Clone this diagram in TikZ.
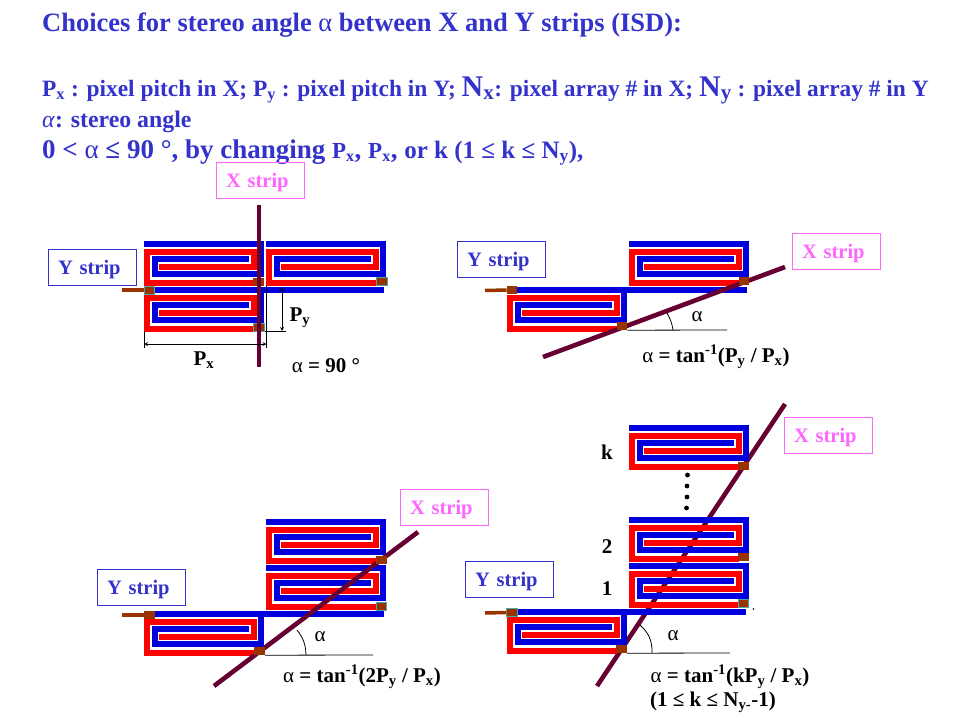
\documentclass[tikz,border=0pt]{standalone}
\usepackage{fontspec}
\setmainfont{Liberation Serif}
\usetikzlibrary{arrows,positioning}
\definecolor{txtblue}{HTML}{3333CC}
\definecolor{wireblue}{HTML}{0000DD}
\definecolor{padbrown}{HTML}{993300}
\definecolor{padedge}{HTML}{44AAAA}
\definecolor{stripmaroon}{HTML}{660033}
\definecolor{boxpink}{HTML}{FF66FF}
\tikzstyle{bluewire} = [line width=6pt,wireblue,miter limit=10]
\tikzstyle{redwire} = [line width=6pt,red,miter limit=10]
\tikzstyle{xstrip} = [line width=4.6pt,stripmaroon]
\tikzstyle{feed} = [line width=3.5pt,padbrown]
\tikzstyle{pad} = [fill=padbrown,minimum width=10.5pt,minimum height=8pt,inner sep=0pt]
\tikzstyle{padt} = [pad,draw=padedge,line width=0.6pt]
\tikzstyle{ybox} = [draw=txtblue,text=txtblue,line width=0.8pt,minimum width=88pt,minimum height=36pt,inner sep=0pt,text width=68pt,align=left,text depth=0pt,font=\fontsize{20.5}{22}\selectfont\bfseries]
\tikzstyle{xbox} = [ybox,draw=boxpink,text=boxpink]
\tikzstyle{lbl} = [inner sep=0pt,font=\fontsize{21}{23}\selectfont\bfseries]
\tikzstyle{head} = [inner sep=0pt,anchor=base west,text=txtblue,font=\bfseries]
\tikzstyle{arrow} = [line width=0.8pt,<->,>=stealth]
\tikzstyle{thin line} = [line width=0.8pt]
\tikzset{cell/.pic={
	\draw [bluewire] (0,2.8) -- (116.8,2.8) -- (116.8,33.2) -- (11.3,33.2) -- (11.3,18) -- (105,18);
	\draw [redwire] (110,41.5) -- (3.3,41.5) -- (3.3,11.2) -- (110.3,11.2) -- (110.3,26) -- (15,26);
}}
\newcommand{\fs}[1]{\fontsize{#1}{#1}\selectfont}
\newcommand{\sbx}[1]{\textsubscript{#1}}
\newcommand{\spx}[1]{\textsuperscript{#1}}
\newcommand{\alp}{\textmd{α}}
\begin{document}
\begin{tikzpicture}[x=1pt,y=-1pt]
	\useasboundingbox (0,0) rectangle (960,720);
	% heading
	\node [head] (title) at (42,31) {\fs{26.5}Choices for stereo angle \alp{} between {\fs{28}X} and {\fs{28}Y} strips (ISD):};
	\node [head] (defs) at (42,96) {\fs{23.4}P\sbx{x} : pixel pitch in X; P\sbx{y} : pixel pitch in Y; {\fs{30}N\sbx{x}}: pixel array \# in X; {\fs{30}N\sbx{y}} : pixel array \# in Y};
	\node [head] (stereo) at (42,127) {\fs{23.8}\textit{\textmd{α}}: stereo angle};
	\node [head] (range) at (42,158) {\fs{27}0 < \alp{} ≤ 90 °, by changing {\fs{23}P\sbx{x}}, {\fs{23}P\sbx{x}}, {\fs{25}or k (1 ≤ k ≤ N\sbx{y}),}};
	% alpha = 90
	\foreach \x/\y in {144/241,266/241,144/287} {
		\pic at (\x,\y) {cell};
	}
	\draw [bluewire] (264,289.8) -- (384,289.8);
	\coordinate (fa) at (122,290);
	\node [padt] (pa0) at (149.5,290) {};
	\draw [feed] (fa) -- (pa0.west);
	\node [pad] (pa1) at (258.5,281.5) {};
	\node [padt] (pa2) at (382,281.5) {};
	\node [padt] (pa3) at (259,327) {};
	\coordinate (sa) at (259,205);
	\coordinate (ea) at (259,367);
	\draw [xstrip] (sa) -- (ea);
	\coordinate (pxl) at (144,344);
	\coordinate (pxr) at (266.5,344);
	\coordinate (pyt) at (282,287);
	\coordinate (pyb) at (282,331);
	\draw [arrow] (pxl) -- (pxr);
	\draw [arrow] (pyt) -- (pyb);
	\draw [thin line] (144,331) -- (144,348);
	\draw [thin line] (266.5,285) -- (266.5,348);
	\draw [thin line] (265,331) -- (286,331);
	\node [xbox] (xa) at (260,180) {X strip};
	\node [ybox] (ya) at (92,267) {Y strip};
	\node [lbl] (lpy) at (300,318) {P\sbx{y}};
	\node [lbl] (lpx) at (204,360) {P\sbx{x}};
	\node [lbl] (eqa) at (326,366) {\alp{} = 90 °};
	% alpha = tan(Py/Px)
	\foreach \x/\y in {629/241,507/287} {
		\pic at (\x,\y) {cell};
	}
	\draw [bluewire] (627,289.8) -- (747,289.8);
	\coordinate (fb) at (485,290.5);
	\node [pad] (pb0) at (512,290) {};
	\draw [feed] (fb) -- (pb0.west);
	\coordinate (sb) at (543,357);
	\coordinate (eb) at (785,267);
	\draw [xstrip] (sb) -- (eb);
	\node [pad] (pb1) at (744,281) {};
	\node [pad] (pb2) at (622,326) {};
	\coordinate (bb) at (727,330);
	\draw [thin line] (pb2.south east) -- (bb);
	\coordinate (ab) at (673,330);
	\coordinate (cb) at (667,313);
	\draw [thin line] (ab) to [bend right=10] (cb);
	\node [xbox] (xb) at (836,251) {X strip};
	\node [ybox] (yb) at (501,259) {Y strip};
	\node [lbl] (lab) at (697,317) {\alp};
	\node [lbl] (eqb) at (716,357) {\alp{} = tan\spx{-1}(P\sbx{y} / P\sbx{x})};
	% alpha = tan(2Py/Px)
	\foreach \x/\y in {266/519,266/565,144/611} {
		\pic at (\x,\y) {cell};
	}
	\draw [bluewire] (264,613.8) -- (384,613.8);
	\coordinate (fc) at (122,615);
	\node [pad] (pc0) at (149.5,615) {};
	\draw [feed] (fc) -- (pc0.west);
	\coordinate (sc) at (214,686);
	\coordinate (ec) at (418,532);
	\draw [xstrip] (sc) -- (ec);
	\node [pad] (pc1) at (381.5,560) {};
	\node [padt] (pc2) at (381.5,606) {};
	\node [pad] (pc3) at (259.5,651) {};
	\coordinate (bc) at (373,655);
	\draw [thin line] (pc3.south east) -- (bc);
	\coordinate (ac) at (306,655);
	\coordinate (cc) at (297,630);
	\draw [thin line] (ac) to [bend right=18] (cc);
	\node [xbox] (xc) at (444,507) {X strip};
	\node [ybox] (yc) at (141,587) {Y strip};
	\node [lbl] (lac) at (320,637) {\alp};
	\node [lbl] (eqc) at (362,677) {\alp{} = tan\spx{-1}(2P\sbx{y} / P\sbx{x})};
	% alpha = tan(kPy/Px)
	\coordinate (sd) at (597,686);
	\coordinate (ed) at (785,404);
	\draw [xstrip] (sd) -- (ed);
	\foreach \x/\y in {629/425,629/517,629/563,507/609} {
		\pic at (\x,\y) {cell};
	}
	\draw [bluewire] (627,611.8) -- (746,611.8);
	\coordinate (fd) at (485,613);
	\node [padt] (pd0) at (512,612.5) {};
	\draw [feed] (fd) -- (pd0.west);
	\node [pad] (pd1) at (743.5,465.5) {};
	\node [pad] (pd2) at (743.5,557) {};
	\node [padt] (pd3) at (743.5,603) {};
	\node [pad] (pd4) at (621.5,649) {};
	\coordinate (bd) at (730,653);
	\draw [thin line] (pd4.south east) -- (bd);
	\coordinate (ad) at (652,653);
	\coordinate (cd) at (640,625);
	\draw [thin line] (ad) to [bend right=25] (cd);
	\foreach \x/\y in {687.5/475,687/486,687/497,686.5/508} {
		\fill (\x,\y) circle (2.4pt);
	}
	\fill (753.5,609) circle (0.8pt);
	\node [xbox] (xd) at (828,435) {X strip};
	\node [ybox] (yd) at (509,579) {Y strip};
	\node [lbl] (lk) at (607,452) {k};
	\node [lbl] (l2) at (607,547) {2};
	\node [lbl] (l1) at (607,589) {1};
	\node [lbl] (lad) at (673,636) {\alp};
	\node [lbl] (eqd) at (730,677) {\alp{} = tan\spx{-1}(kP\sbx{y} / P\sbx{x})};
	\node [lbl] (eqe) at (713,702) {(1 ≤ k ≤ N\sbx{y-}-1)};
\end{tikzpicture}
\end{document}
